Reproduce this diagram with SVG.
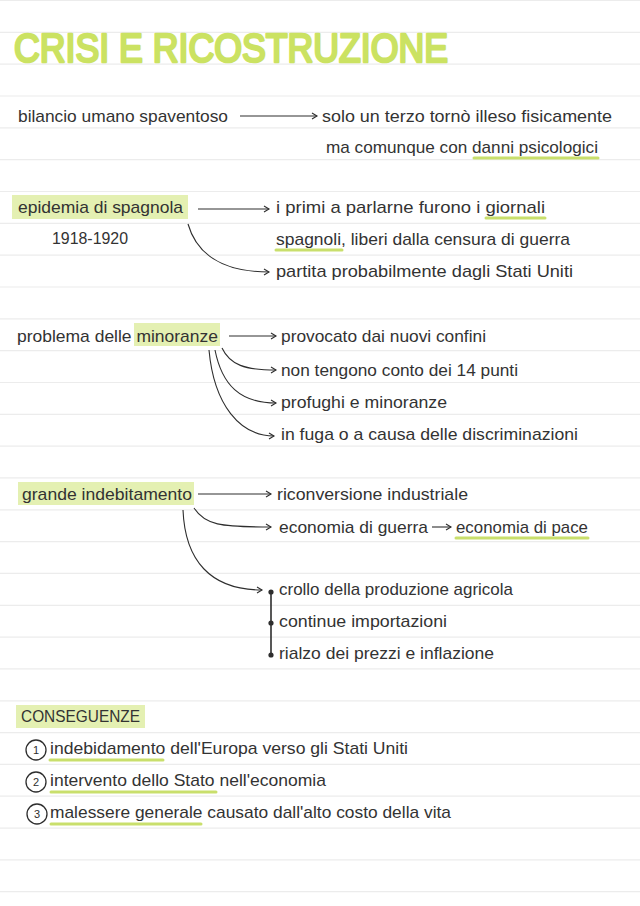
<svg xmlns="http://www.w3.org/2000/svg" width="640" height="906" viewBox="0 0 640 906">
<style>
.bg{fill:#ffffff}
.rule{stroke:#ececec;stroke-width:1.2}
.t{font-family:"Liberation Sans",Arial,sans-serif;font-size:17px;fill:#333333}
.title{font-family:"Liberation Sans",Arial,sans-serif;font-size:40px;fill:#cbe262;stroke:#cbe262;stroke-width:2.6;stroke-linejoin:round;stroke-linecap:round}
.hl{fill:#e4f0b2}
.ul{stroke:#c9df6c;stroke-width:3;stroke-linecap:round;fill:none}
.c{stroke:#2e2e2e;stroke-width:1.1;fill:none}
.dot{fill:#2e2e2e}
.circ{fill:none;stroke:#2e2e2e;stroke-width:1.3}
.num{font-family:"Liberation Sans",Arial,sans-serif;font-size:11px;fill:#2e2e2e;text-anchor:middle}
</style>
<defs>
<marker id="ah" markerWidth="8" markerHeight="8" refX="6" refY="4" orient="auto" markerUnits="userSpaceOnUse">
<path d="M1,1 L6,4 L1,7" fill="none" stroke="#2e2e2e" stroke-width="1.1"/>
</marker>
</defs>
<rect class="bg" x="0" y="0" width="640" height="906"/>
<g id="rules">
<line class="rule" x1="0" x2="640" y1="0.5" y2="0.5"/>
<line class="rule" x1="0" x2="640" y1="32.3" y2="32.3"/>
<line class="rule" x1="0" x2="640" y1="64.2" y2="64.2"/>
<line class="rule" x1="0" x2="640" y1="96" y2="96"/>
<line class="rule" x1="0" x2="640" y1="127.8" y2="127.8"/>
<line class="rule" x1="0" x2="640" y1="159.7" y2="159.7"/>
<line class="rule" x1="0" x2="640" y1="191.5" y2="191.5"/>
<line class="rule" x1="0" x2="640" y1="223.3" y2="223.3"/>
<line class="rule" x1="0" x2="640" y1="255.1" y2="255.1"/>
<line class="rule" x1="0" x2="640" y1="287" y2="287"/>
<line class="rule" x1="0" x2="640" y1="318.8" y2="318.8"/>
<line class="rule" x1="0" x2="640" y1="350.6" y2="350.6"/>
<line class="rule" x1="0" x2="640" y1="382.5" y2="382.5"/>
<line class="rule" x1="0" x2="640" y1="414.3" y2="414.3"/>
<line class="rule" x1="0" x2="640" y1="446.1" y2="446.1"/>
<line class="rule" x1="0" x2="640" y1="477.9" y2="477.9"/>
<line class="rule" x1="0" x2="640" y1="509.8" y2="509.8"/>
<line class="rule" x1="0" x2="640" y1="541.6" y2="541.6"/>
<line class="rule" x1="0" x2="640" y1="573.4" y2="573.4"/>
<line class="rule" x1="0" x2="640" y1="605.3" y2="605.3"/>
<line class="rule" x1="0" x2="640" y1="637.1" y2="637.1"/>
<line class="rule" x1="0" x2="640" y1="668.9" y2="668.9"/>
<line class="rule" x1="0" x2="640" y1="700.8" y2="700.8"/>
<line class="rule" x1="0" x2="640" y1="732.6" y2="732.6"/>
<line class="rule" x1="0" x2="640" y1="764.4" y2="764.4"/>
<line class="rule" x1="0" x2="640" y1="796.2" y2="796.2"/>
<line class="rule" x1="0" x2="640" y1="828.1" y2="828.1"/>
<line class="rule" x1="0" x2="640" y1="859.9" y2="859.9"/>
<line class="rule" x1="0" x2="640" y1="891.7" y2="891.7"/>
</g>

<g id="title">
<text class="title" x="14" y="62" textLength="434" lengthAdjust="spacingAndGlyphs">CRISI E RICOSTRUZIONE</text>
</g>

<g id="bilancio">
<text class="t" x="18" y="122" textLength="210" lengthAdjust="spacingAndGlyphs">bilancio umano spaventoso</text>
</g>
<g id="solo-un-terzo">
<text class="t" x="322" y="122" textLength="290" lengthAdjust="spacingAndGlyphs">solo un terzo tornò illeso fisicamente</text>
<line class="ul" x1="474" y1="158" x2="598" y2="158"/>
<text class="t" x="326" y="153" textLength="272" lengthAdjust="spacingAndGlyphs">ma comunque con danni psicologici</text>
</g>

<g id="epidemia">
<rect class="hl" x="12" y="195" width="176" height="24"/>
<text class="t" x="18" y="213" textLength="165" lengthAdjust="spacingAndGlyphs">epidemia di spagnola</text>
<text class="t" x="52" y="244" textLength="76" lengthAdjust="spacingAndGlyphs">1918-1920</text>
</g>
<g id="primi-a-parlarne">
<line class="ul" x1="486" y1="218" x2="545" y2="218"/>
<line class="ul" x1="276" y1="250" x2="342" y2="250"/>
<text class="t" x="276" y="213" textLength="269" lengthAdjust="spacingAndGlyphs">i primi a parlarne furono i giornali</text>
<text class="t" x="276" y="245" textLength="294" lengthAdjust="spacingAndGlyphs">spagnoli, liberi dalla censura di guerra</text>
</g>
<g id="partita">
<text class="t" x="276" y="277" textLength="297" lengthAdjust="spacingAndGlyphs">partita probabilmente dagli Stati Uniti</text>
</g>

<g id="minoranze">
<rect class="hl" x="134" y="323" width="86" height="23"/>
<text class="t" x="17" y="342" textLength="201" lengthAdjust="spacingAndGlyphs">problema delle minoranze</text>
</g>
<g id="provocato">
<text class="t" x="281" y="342" textLength="205" lengthAdjust="spacingAndGlyphs">provocato dai nuovi confini</text>
</g>
<g id="quattordici-punti">
<text class="t" x="281" y="376" textLength="237" lengthAdjust="spacingAndGlyphs">non tengono conto dei 14 punti</text>
</g>
<g id="profughi">
<text class="t" x="281" y="408" textLength="166" lengthAdjust="spacingAndGlyphs">profughi e minoranze</text>
</g>
<g id="in-fuga">
<text class="t" x="281" y="440" textLength="297" lengthAdjust="spacingAndGlyphs">in fuga o a causa delle discriminazioni</text>
</g>

<g id="indebitamento">
<rect class="hl" x="18" y="482" width="176" height="23"/>
<text class="t" x="22" y="500" textLength="170" lengthAdjust="spacingAndGlyphs">grande indebitamento</text>
</g>
<g id="riconversione">
<text class="t" x="277" y="500" textLength="191" lengthAdjust="spacingAndGlyphs">riconversione industriale</text>
</g>
<g id="economia-guerra">
<text class="t" x="279" y="533" textLength="149" lengthAdjust="spacingAndGlyphs">economia di guerra</text>
</g>
<g id="economia-pace">
<line class="ul" x1="456" y1="538" x2="588" y2="538"/>
<text class="t" x="456" y="533" textLength="132" lengthAdjust="spacingAndGlyphs">economia di pace</text>
</g>
<g id="elenco-crisi">
<line x1="271" y1="592" x2="271" y2="655" stroke="#2e2e2e" stroke-width="1.6"/>
<circle class="dot" cx="271" cy="592" r="2.6"/>
<circle class="dot" cx="271" cy="623" r="2.6"/>
<circle class="dot" cx="271" cy="655" r="2.6"/>
<text class="t" x="279" y="595" textLength="234" lengthAdjust="spacingAndGlyphs">crollo della produzione agricola</text>
<text class="t" x="279" y="627" textLength="168" lengthAdjust="spacingAndGlyphs">continue importazioni</text>
<text class="t" x="279" y="659" textLength="215" lengthAdjust="spacingAndGlyphs">rialzo dei prezzi e inflazione</text>
</g>

<g id="conseguenze">
<rect class="hl" x="16" y="705" width="129" height="23"/>
<text class="t" x="21" y="722" textLength="119" lengthAdjust="spacingAndGlyphs">CONSEGUENZE</text>
</g>
<g id="conseguenza-1">
<circle class="circ" cx="36" cy="750" r="10"/>
<text class="num" x="36" y="754">1</text>
<line class="ul" x1="50" y1="760" x2="163" y2="760"/>
<text class="t" x="50" y="754" textLength="358" lengthAdjust="spacingAndGlyphs">indebidamento dell'Europa verso gli Stati Uniti</text>
</g>
<g id="conseguenza-2">
<circle class="circ" cx="36" cy="782" r="10"/>
<text class="num" x="36" y="786">2</text>
<line class="ul" x1="51" y1="792" x2="216" y2="792"/>
<text class="t" x="50" y="786" textLength="276" lengthAdjust="spacingAndGlyphs">intervento dello Stato nell'economia</text>
</g>
<g id="conseguenza-3">
<circle class="circ" cx="37" cy="814" r="10"/>
<text class="num" x="37" y="818">3</text>
<line class="ul" x1="51" y1="824" x2="201" y2="824"/>
<text class="t" x="50" y="818" textLength="401" lengthAdjust="spacingAndGlyphs">malessere generale causato dall'alto costo della vita</text>
</g>

<g id="connectors">
<path class="c" d="M240,116 L317,116" marker-end="url(#ah)"/>
<path class="c" d="M198,209 L269,209" marker-end="url(#ah)"/>
<path class="c" d="M188,224 C196,252 220,272 269,272" marker-end="url(#ah)"/>
<path class="c" d="M229,336 L276,336" marker-end="url(#ah)"/>
<path class="c" d="M222,348 C230,365 245,370 276,370" marker-end="url(#ah)"/>
<path class="c" d="M215,350 C222,385 240,403 276,403" marker-end="url(#ah)"/>
<path class="c" d="M209,350 C214,405 240,436 274,436" marker-end="url(#ah)"/>
<path class="c" d="M198,494 L271,494" marker-end="url(#ah)"/>
<path class="c" d="M194,508 C205,525 220,527 271,527" marker-end="url(#ah)"/>
<path class="c" d="M432,527 L451,527" marker-end="url(#ah)"/>
<path class="c" d="M183,510 C185,560 210,590 262,590" marker-end="url(#ah)"/>
</g>
</svg>
